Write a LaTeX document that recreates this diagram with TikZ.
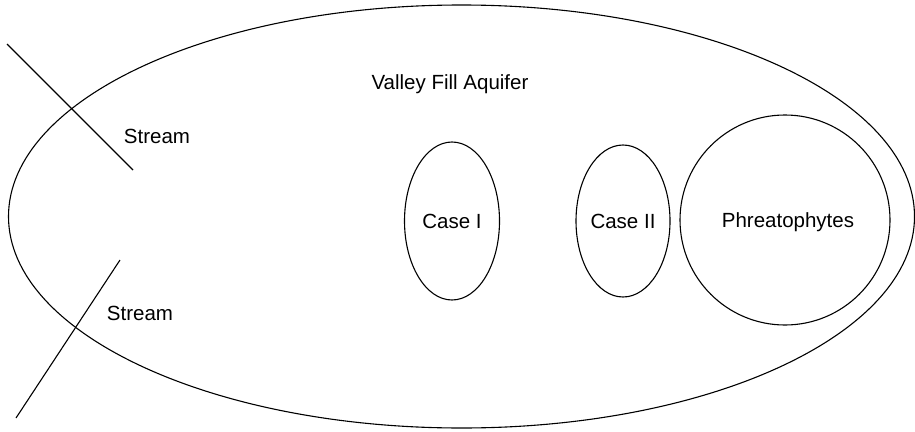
\documentclass[tikz,border=0pt]{standalone}
\usepackage{fontspec}
\setmainfont{Liberation Sans}
\usetikzlibrary{shapes.geometric}
\tikzset{
  outline/.style={draw=black, line width=1.1pt},
  region/.style={outline, ellipse, inner sep=0pt, font=\fontsize{20.5}{24}\selectfont,
    text height=14.8pt, text depth=0pt},
  label/.style={anchor=base, font=\fontsize{20.5}{24}\selectfont}
}
\begin{document}
\begin{tikzpicture}[x=1pt,y=-1pt]
  \useasboundingbox (0,0) rectangle (915,431);

  % Aquifer outline.
  \node[region, minimum width=906pt, minimum height=423pt] (aquifer) at (461.5,216.5) {};
  \node[label] (aquiferlabel) at (450,89) {Valley Fill Aquifer};

  % Cases and phreatophytes.
  \node[region, minimum width=95pt, minimum height=158pt] (caseone) at (452,221) {Case I};
  \node[region, minimum width=94pt, minimum height=152pt] (casetwo) at (623,221) {Case II};
  \node[region, circle, minimum size=210pt] (phreato) at (785,220) {\hspace{6pt}Phreatophytes};

  % Streams.
  \coordinate (streamAin) at (7,44);
  \coordinate (streamAend) at (133,170);
  \coordinate (streamBin) at (16,418);
  \coordinate (streamBend) at (120,260);
  \draw[outline] (streamAin) -- (streamAend);
  \draw[outline] (streamBin) -- (streamBend);
  \node[label] (streamAlabel) at (157,143) {Stream};
  \node[label] (streamBlabel) at (140,320) {Stream};
\end{tikzpicture}
\end{document}
